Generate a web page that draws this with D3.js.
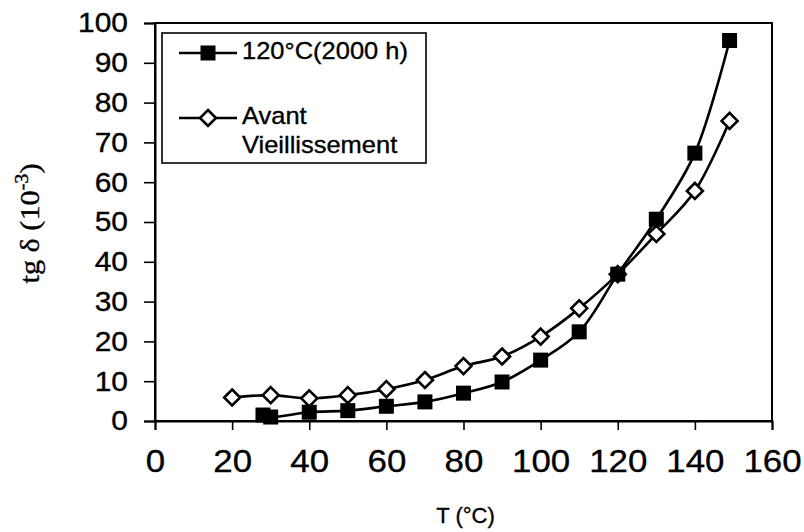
<!DOCTYPE html>
<html>
<head>
<meta charset="utf-8">
<script src="https://cdn.jsdelivr.net/npm/d3@7/dist/d3.min.js"></script>
<style>
  html, body { margin: 0; padding: 0; background: #fff; }
  svg { display: block; }
  text { fill: #000; stroke: #000; stroke-width: 0.35px; }
</style>
</head>
<body>
<svg id="chart" width="804" height="532"></svg>
<script>
// Loss tangent tg δ (×10^-3) versus temperature
const agedT      = [28, 30, 40, 50, 60, 70, 80, 90, 100, 110, 120, 130, 140, 149];
const agedTan    = [1.5, 1.0, 2.2, 2.6, 3.7, 4.8, 7.0, 9.8, 15.3, 22.4, 36.9, 50.7, 67.3, 95.6];
const unagedT    = [20, 30, 40, 50, 60, 70, 80, 90, 100, 110, 120, 130, 140, 149];
const unagedTan  = [5.9, 6.5, 5.7, 6.5, 8.0, 10.3, 13.8, 16.2, 21.2, 28.3, 36.9, 47.0, 57.8, 75.4];
const xTicks     = [0, 20, 40, 60, 80, 100, 120, 140, 160];
const yTicks     = [0, 10, 20, 30, 40, 50, 60, 70, 80, 90, 100];
const seriesNames = ["120°C(2000 h)", "Avant", "Vieillissement"];

const svg = d3.select("#chart");
const plotL = 155, plotR = 772, plotT = 23, plotB = 421;

const x = d3.scaleLinear().domain([0, 160]).range([plotL, plotR]);
const y = d3.scaleLinear().domain([0, 100]).range([plotB, plotT]);

const font = "'Liberation Sans', Arial, sans-serif";

// plot frame
svg.append("rect")
  .attr("x", plotL).attr("y", plotT)
  .attr("width", plotR - plotL).attr("height", plotB - plotT)
  .attr("fill", "none").attr("stroke", "#000").attr("stroke-width", 2);

// y axis
const ySx = 1.07;
const yAxis = svg.append("g")
  .attr("transform", `translate(${plotL},0)`)
  .call(d3.axisLeft(y).tickValues(yTicks).tickSize(11).tickPadding(15).tickFormat(d3.format("d")));
yAxis.select(".domain").attr("stroke-width", 2);
yAxis.selectAll(".tick line").attr("stroke-width", 1.6);
yAxis.selectAll(".tick text")
  .attr("font-family", font).attr("font-size", 28)
  .attr("x", -27 / ySx)
  .attr("transform", `scale(${ySx},1)`);

// x axis
const xSx = 1.09;
const xAxis = svg.append("g")
  .attr("transform", `translate(0,${plotB})`)
  .call(d3.axisBottom(x).tickValues(xTicks).tickSize(9).tickPadding(19).tickFormat(d3.format("d")));
xAxis.select(".domain").attr("stroke-width", 2);
xAxis.selectAll(".tick line").attr("stroke-width", 1.6);
xAxis.selectAll(".tick text")
  .attr("font-family", font).attr("font-size", 32)
  .attr("transform", `scale(${xSx},1)`);

// axis titles
svg.append("text")
  .attr("x", (plotL + plotR) / 2 + 2).attr("y", 523)
  .attr("text-anchor", "middle")
  .attr("font-family", font).attr("font-size", 22)
  .text("T (°C)");

const yTitle = svg.append("text")
  .attr("transform", "translate(38.5,223.5) rotate(-90) scale(1.12,1)")
  .attr("text-anchor", "middle")
  .attr("font-family", "'Liberation Serif', 'Times New Roman', serif")
  .attr("font-size", 27);
yTitle.append("tspan").text("tg δ (10");
yTitle.append("tspan").attr("font-size", 18).attr("dy", -11).text("-3");
yTitle.append("tspan").attr("dy", 11).text(")");

// series
const line = d3.line().curve(d3.curveCatmullRom.alpha(0.5))
  .x(d => x(d[0])).y(d => y(d[1]));

const aged = agedT.map((t, i) => [t, agedTan[i]]);
const unaged = unagedT.map((t, i) => [t, unagedTan[i]]);

svg.append("path").datum(unaged).attr("d", line)
  .attr("fill", "none").attr("stroke", "#000").attr("stroke-width", 2.6);
svg.append("path").datum(aged).attr("d", line)
  .attr("fill", "none").attr("stroke", "#000").attr("stroke-width", 2.6);

const sq = 15, dm = 8;
function square(g, cx, cy) {
  g.append("rect").attr("x", cx - sq / 2).attr("y", cy - sq / 2)
    .attr("width", sq).attr("height", sq).attr("fill", "#000");
}
function diamond(g, cx, cy) {
  g.append("path")
    .attr("d", `M${cx},${cy - dm}L${cx + dm},${cy}L${cx},${cy + dm}L${cx - dm},${cy}Z`)
    .attr("fill", "#fff").attr("stroke", "#000").attr("stroke-width", 2.6);
}

const marks = svg.append("g");
unaged.forEach(d => diamond(marks, x(d[0]), y(d[1])));
aged.forEach(d => square(marks, x(d[0]), y(d[1])));

// legend
const lg = svg.append("g");
lg.append("rect").attr("x", 162).attr("y", 33).attr("width", 264).attr("height", 130)
  .attr("fill", "#fff").attr("stroke", "#000").attr("stroke-width", 1.6);
lg.append("line").attr("x1", 179).attr("x2", 237).attr("y1", 53).attr("y2", 53)
  .attr("stroke", "#000").attr("stroke-width", 2.6);
square(lg, 208, 53);
lg.append("line").attr("x1", 179).attr("x2", 237).attr("y1", 118).attr("y2", 118)
  .attr("stroke", "#000").attr("stroke-width", 2.6);
diamond(lg, 208, 118);

const lsx = 1.04;
function legendText(str, tx, ty) {
  lg.append("text")
    .attr("transform", `translate(${tx},${ty}) scale(${lsx},1)`)
    .attr("font-family", font).attr("font-size", 24.5)
    .text(str);
}
legendText(seriesNames[0], 242, 58.5);
legendText(seriesNames[1], 242, 124);
legendText(seriesNames[2], 242, 152.5);
</script>
</body>
</html>
